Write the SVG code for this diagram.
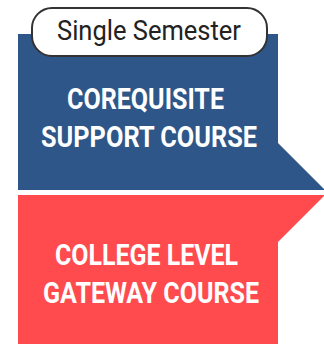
<svg xmlns="http://www.w3.org/2000/svg" width="324" height="344" viewBox="0 0 324 344">
<style>
.t{font-family:Roboto,"Liberation Sans",sans-serif;font-weight:700;font-size:30px;fill:#fff;text-anchor:start}
.p{font-family:Roboto,"Liberation Sans",sans-serif;font-size:27px;fill:#222}
</style>
<rect width="324" height="344" fill="#fff"/>
<g id="corequisite">
<path d="M18 34 H278 V143 L324 189 V190 H18 Z" fill="#2e5688"/>
<text class="t" x="67" y="109" textLength="157" lengthAdjust="spacingAndGlyphs">COREQUISITE</text>
<text class="t" x="41" y="147" textLength="216" lengthAdjust="spacingAndGlyphs">SUPPORT COURSE</text>
</g>
<g id="gateway">
<path d="M18 195 H324 V196 L278 242 V344 H18 Z" fill="#ff4a4e"/>
<text class="t" x="55" y="265" textLength="183" lengthAdjust="spacingAndGlyphs">COLLEGE LEVEL</text>
<text class="t" x="43" y="303" textLength="216" lengthAdjust="spacingAndGlyphs">GATEWAY COURSE</text>
</g>
<g id="semester">
<rect x="32" y="8" width="235" height="48" rx="20" fill="#fff" stroke="#333" stroke-width="2"/>
<text class="p" x="57" y="40" textLength="184" lengthAdjust="spacingAndGlyphs">Single Semester</text>
</g>
<g id="connectors"/>
</svg>
